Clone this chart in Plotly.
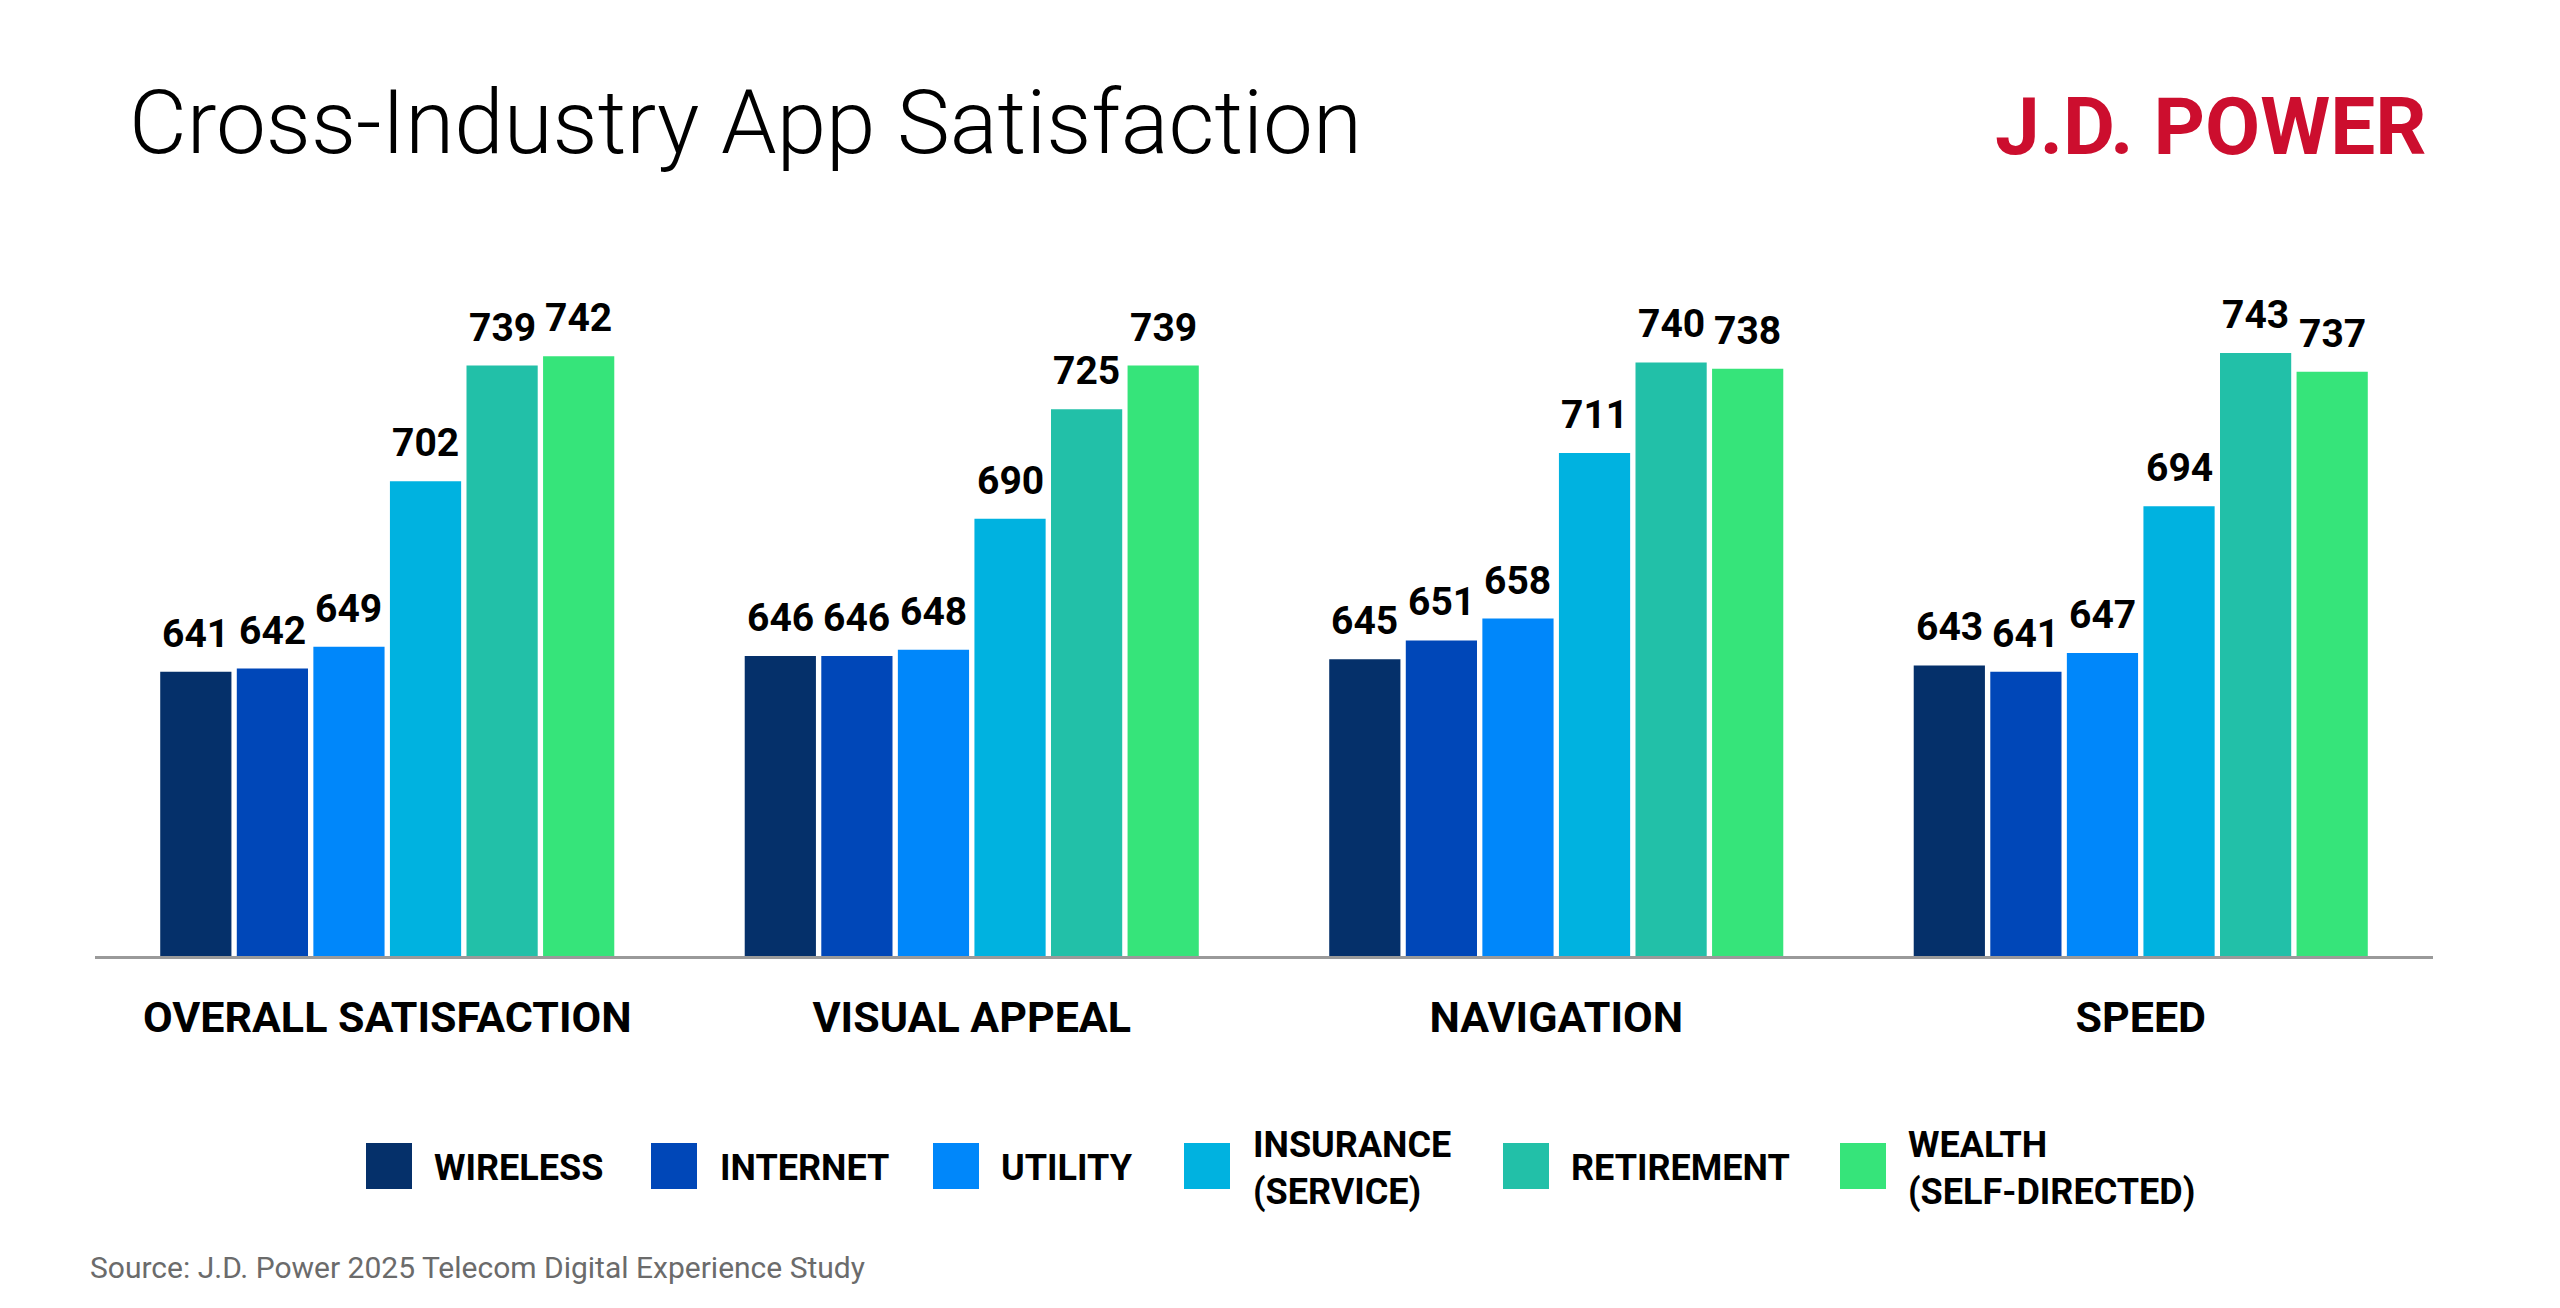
import plotly.graph_objects as go

# ---- data ----
categories = ["OVERALL SATISFACTION", "VISUAL APPEAL", "NAVIGATION", "SPEED"]
series_names = ["WIRELESS", "INTERNET", "UTILITY", "INSURANCE (SERVICE)", "RETIREMENT", "WEALTH (SELF-DIRECTED)"]
legend_labels = ["WIRELESS", "INTERNET", "UTILITY", "INSURANCE<br>(SERVICE)", "RETIREMENT", "WEALTH<br>(SELF-DIRECTED)"]
wireless = [641, 646, 645, 643]
internet = [642, 646, 651, 641]
utility = [649, 648, 658, 647]
insurance = [702, 690, 711, 694]
retirement = [739, 725, 740, 743]
wealth = [742, 739, 738, 737]
series_values = [wireless, internet, utility, insurance, retirement, wealth]
colors = ["#05306A", "#0047B8", "#0087FA", "#00B2E0", "#22C0A8", "#36E47A"]

title_text = "Cross-Industry App Satisfaction"
logo_text = "J.D. POWER"
source_text = "Source: J.D. Power 2025 Telecom Digital Experience Study"

# ---- layout geometry ----
W, H = 2560, 1308
ML, MR, MT, MB = 95, 127, 300, 352
PW, PH = W - ML - MR, H - MT - MB
BARGAP, BARGROUPGAP = 0.214, 0.07


def px_x(x):
    return (x - ML) / PW


def px_y(y):
    return (H - MB - y) / PH


fig = go.Figure()
for name, vals, col in zip(series_names, series_values, colors):
    fig.add_trace(go.Bar(name=name, x=categories, y=vals, marker_color=col,
                         marker_line_width=0, showlegend=False))

annotations = []
n = len(series_values)
slot = (1 - BARGAP) / n
for j, vals in enumerate(series_values):
    for i, v in enumerate(vals):
        xc = i - (1 - BARGAP) / 2 + slot * (j + 0.5)
        annotations.append(dict(x=xc, y=v, xref="x", yref="y", text=str(v),
                                showarrow=False, yanchor="bottom", yshift=13,
                                font=dict(family="Roboto", size=39, color="#000000", weight=700)))

# title / logo / source
annotations.append(dict(x=px_x(127), y=px_y(122), xref="paper", yref="paper", text=title_text,
                        showarrow=False, xanchor="left", yanchor="middle",
                        font=dict(family="Roboto", size=89, color="#000000", weight=300)))
annotations.append(dict(x=px_x(2428), y=px_y(127), xref="paper", yref="paper", text=logo_text,
                        showarrow=False, xanchor="right", yanchor="middle",
                        font=dict(family="Roboto", size=80, color="#CC0E2E", weight=700)))
annotations.append(dict(x=px_x(88), y=px_y(1267), xref="paper", yref="paper", text=source_text,
                        showarrow=False, xanchor="left", yanchor="middle",
                        font=dict(family="Roboto", size=30, color="#6B6B6B", weight=400)))

# custom legend
sw_left = [366, 651, 933, 1184, 1503, 1840]
txt_left = [432, 718, 999, 1251, 1569, 1906]
shapes = []
for k, (lab, col) in enumerate(zip(legend_labels, colors)):
    shapes.append(dict(type="rect", xref="paper", yref="paper",
                       x0=px_x(sw_left[k]), x1=px_x(sw_left[k] + 46),
                       y0=px_y(1189), y1=px_y(1143), fillcolor=col, line_width=0))
    annotations.append(dict(x=px_x(txt_left[k]), y=px_y(1168), xref="paper", yref="paper",
                            text=lab, showarrow=False, xanchor="left", yanchor="middle", align="left",
                            font=dict(family="Roboto", size=36, color="#000000", weight=700)))

fig.update_layout(
    width=W, height=H,
    margin=dict(l=ML, r=MR, t=MT, b=MB),
    paper_bgcolor="white", plot_bgcolor="white",
    barmode="group", bargap=BARGAP, bargroupgap=BARGROUPGAP,
    showlegend=False,
    annotations=annotations, shapes=shapes,
    xaxis=dict(showline=True, linecolor="#9A9A9A", linewidth=3, showgrid=False, zeroline=False,
               ticks="", ticklabelstandoff=21,
               tickfont=dict(family="Roboto", size=43, color="#000000", weight=700)),
    yaxis=dict(range=[550, 550 + PH / 3.124], visible=False, showgrid=False, zeroline=False),
)

fig.write_html("out.html")
